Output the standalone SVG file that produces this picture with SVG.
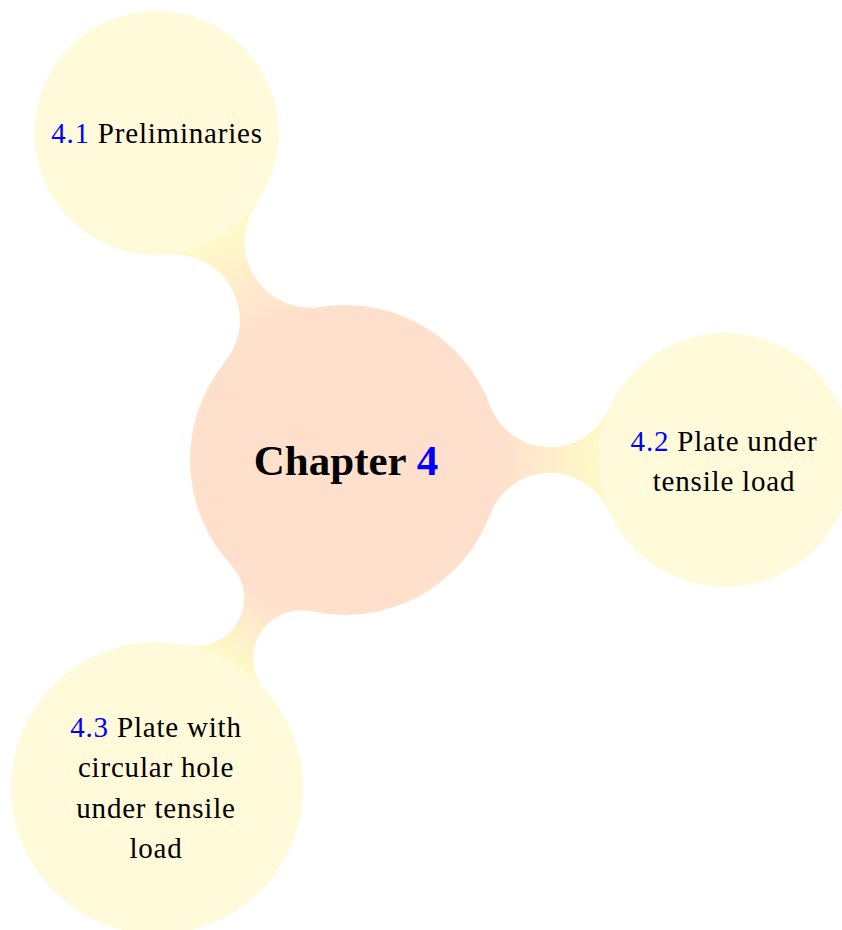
<svg xmlns="http://www.w3.org/2000/svg" width="842" height="930" viewBox="0 0 842 930">
  <style>
    .root { fill: #FFE0CD; }
    .child { fill: #FFFAD9; }
    .lbl { font-family: "Liberation Serif", "Times New Roman", serif; font-size: 29px; fill: #000; text-anchor: middle; letter-spacing: 0.8px; }
    .title { font-family: "Liberation Serif", "Times New Roman", serif; font-size: 43px; font-weight: bold; fill: #000; text-anchor: middle; }
    .num { fill: #0000FF; }
  </style>
  <defs>
    <!-- shading along each connection bar: parent colour to child colour -->
    <linearGradient id="g41" gradientUnits="userSpaceOnUse" x1="267.75" y1="325.63" x2="217.80" y2="238.76">
      <stop offset="0" stop-color="#FFE0CD"/>
      <stop offset="1" stop-color="#FFF9C8"/>
    </linearGradient>
    <linearGradient id="g42" gradientUnits="userSpaceOnUse" x1="500" y1="460" x2="598" y2="460">
      <stop offset="0" stop-color="#FFE0CD"/>
      <stop offset="1" stop-color="#FFF9C8"/>
    </linearGradient>
    <linearGradient id="g43" gradientUnits="userSpaceOnUse" x1="267.92" y1="594.48" x2="229.60" y2="661.33">
      <stop offset="0" stop-color="#FFE0CD"/>
      <stop offset="1" stop-color="#FFF9C8"/>
    </linearGradient>
  </defs>

  <rect width="842" height="930" fill="#FFFFFF"/>

  <!-- connection bars with concave fillets tangent to both circles -->
  <g id="connectors">
    <path fill="url(#g41)" d="M320.73,306.91 A66,66 0 0 1 256.55,203.56 L167.89,254.53 A66,66 0 0 1 224.91,362.00 Z"/>
    <path fill="url(#g42)" d="M490.16,514.36 A64,64 0 0 1 608.71,511.07 L608.71,408.93 A64,64 0 0 1 490.16,405.64 Z"/>
    <path fill="url(#g43)" d="M231.30,565.35 A48,48 0 0 1 186.42,644.99 L265.53,690.34 A48,48 0 0 1 311.56,611.36 Z"/>
  </g>

  <g id="chapter">
    <circle class="root" cx="345" cy="460" r="155"/>
    <text class="title" x="346" y="475">Chapter <tspan class="num">4</tspan></text>
  </g>

  <g id="sec-4-1">
    <circle class="child" cx="156.5" cy="133" r="122"/>
    <text class="lbl" x="157" y="143"><tspan class="num">4.1</tspan> Preliminaries</text>
  </g>

  <g id="sec-4-2">
    <circle class="child" cx="725" cy="460" r="127"/>
    <text class="lbl" x="724" y="451"><tspan class="num">4.2</tspan> Plate under</text>
    <text class="lbl" x="724" y="491">tensile load</text>
  </g>

  <g id="sec-4-3">
    <circle class="child" cx="157" cy="788" r="146"/>
    <text class="lbl" x="156" y="737"><tspan class="num">4.3</tspan> Plate with</text>
    <text class="lbl" x="156" y="777">circular hole</text>
    <text class="lbl" x="156" y="818">under tensile</text>
    <text class="lbl" x="156" y="858">load</text>
  </g>
</svg>
